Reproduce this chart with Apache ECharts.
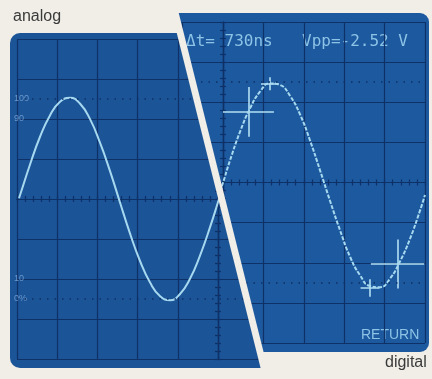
<!DOCTYPE html>
<html>
<head>
<meta charset="utf-8">
<script src="https://cdn.jsdelivr.net/npm/echarts@6/dist/echarts.min.js"></script>
<style>
  html, body { margin: 0; padding: 0; background: #f0eee7; }
  #wrap { position: relative; width: 432px; height: 379px; overflow: hidden; }
  .pane { position: absolute; left: 0; top: 0; width: 432px; height: 379px; }
  #left { clip-path: polygon(0px 0px, 168.5px 0px, 263.3px 379px, 0px 379px); }
  #right { clip-path: polygon(175.5px 0px, 432px 0px, 432px 379px, 270.3px 379px); }
</style>
</head>
<body>
<div id="wrap">
  <div id="left" class="pane"></div>
  <div id="right" class="pane"></div>
</div>
<script>
// ---- data (graticule divisions, centre of screen = 0,0) ----
const leftTraceX = [-4.95, -4.93, -4.68, -4.43, -4.18, -3.93, -3.68, -3.43, -3.18, -2.94, -2.69, -2.44, -2.19, -1.94, -1.69, -1.44, -1.19, -0.95, -0.70, -0.45, -0.20, 0.05, 0.30];
const leftTraceY = [0.02, 0.08, 0.85, 1.55, 2.09, 2.43, 2.53, 2.38, 1.99, 1.42, 0.71, -0.08, -0.86, -1.55, -2.09, -2.43, -2.53, -2.38, -2.00, -1.42, -0.71, 0.08, 0.85];

const rightTraceX = [-0.20, -0.02, 0.17, 0.42, 0.67, 0.92, 1.16, 1.41, 1.66, 1.91, 2.15, 2.40, 2.65, 2.90, 3.14, 3.39, 3.64, 3.89, 4.13, 4.38, 4.63, 4.88, 5.00];
const rightTraceY = [-0.61, -0.07, 0.54, 1.26, 1.85, 2.27, 2.47, 2.43, 2.16, 1.69, 1.06, 0.31, -0.46, -1.20, -1.84, -2.31, -2.58, -2.61, -2.40, -1.97, -1.40, -0.69, -0.31];

const cursorX = [0.63, 1.16, 3.64, 4.32];
const cursorY = [1.76, 2.46, -2.63, -2.03];
const cursorHalfW = [0.63, 0.22, 0.235, 0.66];
const cursorHalfH = [0.62, 0.16, 0.22, 0.61];

const levelLines = [2.5, -2.5];                 // 100 % and 0 % dotted lines
const scaleValues = [2.5, 2, -2, -2.5];
const scaleTexts = ['100', '90', '10', '0%'];

const readoutDt = 'Δt= 730ns';
const readoutVpp = 'Vpp=-2.52 V';
const softKey = 'RETURN';
const labelAnalog = 'analog';
const labelDigital = 'digital';

// ---- styles ----
const GRID = '#0e3168';
const TRACE = '#a6d9f0';
const SCREEN_TEXT = '#8cc3e6';

function pairs(xs, ys) { return xs.map((x, i) => [x, ys[i]]); }

function centreAxes(kind) {
  const isX = kind === 'x';
  const base = {
    type: 'value',
    min: isX ? -5 : -4,
    max: isX ? 5 : 4,
    interval: 1,
    axisLabel: { show: false },
    axisLine: { show: true, onZero: true, lineStyle: { color: GRID, width: 1.2 } },
    axisTick: { show: true, length: 3, lineStyle: { color: GRID, width: 1.2 } },
    minorTick: { show: true, splitNumber: 5, length: 3, lineStyle: { color: GRID, width: 1.2 } },
    splitLine: { show: false }
  };
  const a = Object.assign({}, base, {
    position: isX ? 'bottom' : 'left',
    splitLine: { show: true, lineStyle: { color: GRID, width: 1.2 } }
  });
  const b = Object.assign({}, base, { position: isX ? 'top' : 'right' });
  return [a, b];
}

function dotted() {
  return {
    silent: true,
    symbol: 'none',
    label: { show: false },
    lineStyle: { type: [1.5, 6], color: GRID, width: 1.6 },
    data: levelLines.map(v => ({ yAxis: v }))
  };
}

// ---- analog (left) ----
const leftChart = echarts.init(document.getElementById('left'), null, { renderer: 'canvas' });
const leftY = centreAxes('y');
leftY.push({
  type: 'value', min: -4, max: 4, interval: 0.5, position: 'left',
  axisLine: { show: false, onZero: false }, axisTick: { show: false }, splitLine: { show: false },
  axisLabel: {
    show: true, inside: true, margin: -3, fontSize: 9, color: '#6b98cb',
    fontFamily: 'Liberation Sans',
    formatter: v => { const i = scaleValues.indexOf(v); return i >= 0 ? scaleTexts[i] : ''; }
  }
});
leftChart.setOption({
  animation: false,
  backgroundColor: 'transparent',
  grid: { left: 17, top: 39, width: 402, height: 320 },
  xAxis: centreAxes('x'),
  yAxis: leftY,
  graphic: [
    { type: 'rect', z: -10, shape: { x: 10, y: 33, width: 420, height: 335, r: 10 }, style: { fill: '#1b5497' } },
    { type: 'text', x: 13, y: 9, style: { text: labelAnalog, font: '16px "Liberation Sans", Arial, sans-serif', fill: '#3a3a3a' } }
  ],
  series: [{
    type: 'line', xAxisIndex: 0, yAxisIndex: 0,
    data: pairs(leftTraceX, leftTraceY),
    smooth: true, showSymbol: false, clip: false,
    lineStyle: { color: TRACE, width: 2 },
    markLine: dotted()
  }]
});

// ---- digital (right) ----
const rightChart = echarts.init(document.getElementById('right'), null, { renderer: 'canvas' });
const cursorSegments = [];
cursorX.forEach((x, i) => {
  const y = cursorY[i];
  cursorSegments.push({ coords: [[x - cursorHalfW[i], y], [x + cursorHalfW[i], y]] });
  cursorSegments.push({ coords: [[x, y - cursorHalfH[i]], [x, y + cursorHalfH[i]]] });
});
rightChart.setOption({
  animation: false,
  backgroundColor: 'transparent',
  grid: { left: 21, top: 22, width: 404, height: 321 },
  xAxis: centreAxes('x'),
  yAxis: centreAxes('y'),
  graphic: [
    { type: 'rect', z: -10, shape: { x: 140, y: 13, width: 289, height: 339, r: 9 }, style: { fill: '#1d599e' } },
    { type: 'text', x: 186, y: 42, style: { text: readoutDt, font: '16px "DejaVu Sans Mono", monospace', fill: SCREEN_TEXT, verticalAlign: 'middle' } },
    { type: 'text', x: 302, y: 42, style: { text: readoutVpp, font: '16px "DejaVu Sans Mono", monospace', fill: SCREEN_TEXT, verticalAlign: 'middle' } },
    { type: 'text', x: 361, y: 335, style: { text: softKey, font: '14px "Liberation Sans", Arial, sans-serif', fill: SCREEN_TEXT, verticalAlign: 'middle' } },
    { type: 'text', x: 385, y: 355, style: { text: labelDigital, font: '16px "Liberation Sans", Arial, sans-serif', fill: '#3a3a3a' } }
  ],
  series: [
    {
      type: 'line', xAxisIndex: 0, yAxisIndex: 0,
      data: pairs(rightTraceX, rightTraceY),
      smooth: true, showSymbol: false, clip: false,
      lineStyle: { color: TRACE, width: 2, type: [4, 1.5] },
      markLine: dotted()
    },
    {
      type: 'lines', coordinateSystem: 'cartesian2d', xAxisIndex: 0, yAxisIndex: 0,
      data: cursorSegments, silent: true,
      lineStyle: { color: '#b3e0f3', width: 1.6, opacity: 1 }
    }
  ]
});
</script>
</body>
</html>
